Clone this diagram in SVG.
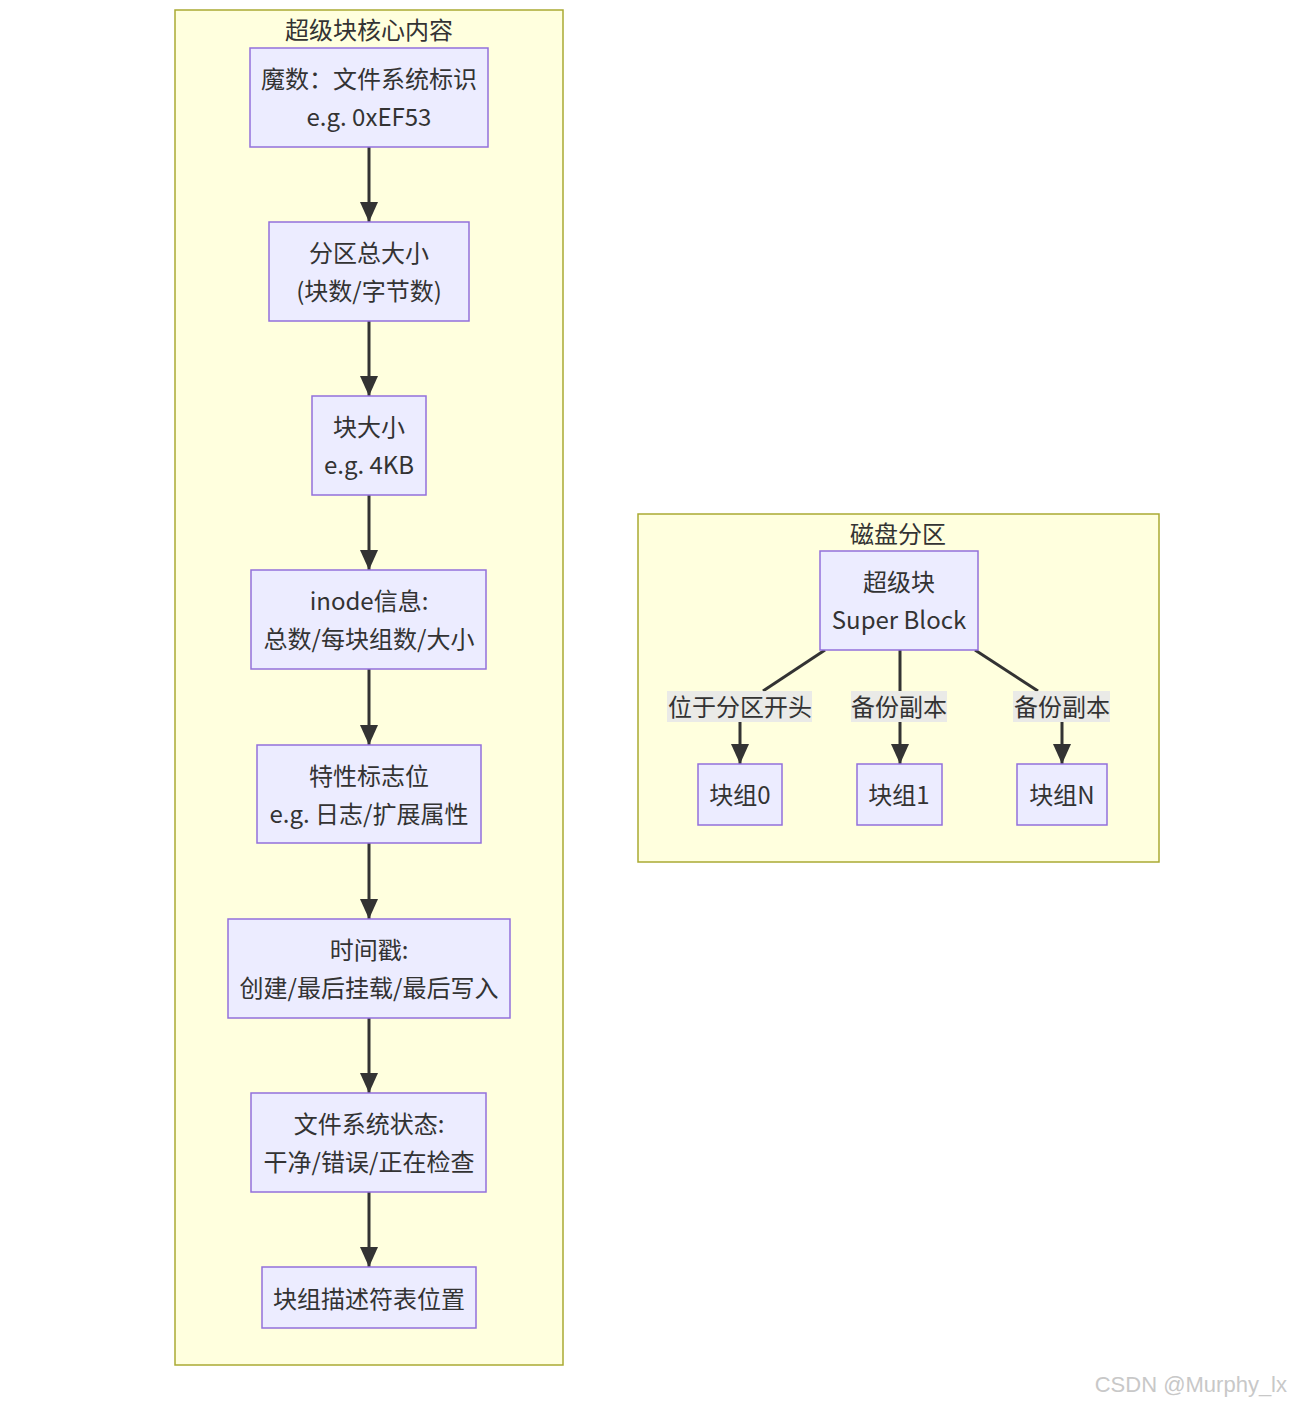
<svg xmlns="http://www.w3.org/2000/svg" width="1291" height="1406" viewBox="0 0 1291 1406">
<style>
.cluster{fill:#ffffde;stroke:#aaaa33;stroke-width:1.5}
.node{fill:#ececff;stroke:#9370db;stroke-width:1.5}
.t{font-family:"Noto Sans CJK SC","Noto Sans",sans-serif;font-size:24px;fill:#333;text-anchor:middle;dominant-baseline:central}
.edge{stroke:#333;stroke-width:3;fill:none}
.lbl{fill:#e8e8e8;opacity:0.9}
.wm{font-family:"Liberation Sans",Arial,sans-serif;font-size:22px;fill:#c8c8c8;text-anchor:end;dominant-baseline:central}
</style>
<defs>
<marker id="arr" markerUnits="userSpaceOnUse" markerWidth="20" markerHeight="20" viewBox="0 0 20 20" refX="20" refY="10" orient="auto">
<path d="M0,1 L20,10 L0,19 z" fill="#333"/>
</marker>
</defs>
<rect width="1291" height="1406" fill="#fff"/>
<g id="cluster-core">
<rect class="cluster" x="175" y="10" width="388" height="1355"/>
<text class="t" x="369" y="28">超级块核心内容</text>
</g>
<g id="cluster-disk">
<rect class="cluster" x="638" y="514" width="521" height="348"/>
<text class="t" x="898" y="532">磁盘分区</text>
</g>
<g id="edges">
<line class="edge" x1="369" y1="147" x2="369" y2="222" marker-end="url(#arr)"/>
<line class="edge" x1="369" y1="321" x2="369" y2="396" marker-end="url(#arr)"/>
<line class="edge" x1="369" y1="495" x2="369" y2="570" marker-end="url(#arr)"/>
<line class="edge" x1="369" y1="669" x2="369" y2="745" marker-end="url(#arr)"/>
<line class="edge" x1="369" y1="843" x2="369" y2="919" marker-end="url(#arr)"/>
<line class="edge" x1="369" y1="1018" x2="369" y2="1093" marker-end="url(#arr)"/>
<line class="edge" x1="369" y1="1192" x2="369" y2="1267" marker-end="url(#arr)"/>
<polyline class="edge" points="825,650 763,691"/>
<line class="edge" x1="740" y1="722" x2="740" y2="764" marker-end="url(#arr)"/>
<line class="edge" x1="900" y1="650" x2="900" y2="691"/>
<line class="edge" x1="900" y1="722" x2="900" y2="764" marker-end="url(#arr)"/>
<polyline class="edge" points="975,650 1038,691"/>
<line class="edge" x1="1062" y1="722" x2="1062" y2="764" marker-end="url(#arr)"/>
<rect class="lbl" x="667" y="691" width="145" height="31"/>
<text class="t" x="740" y="705">位于分区开头</text>
<rect class="lbl" x="851" y="691" width="96" height="31"/>
<text class="t" x="899" y="705">备份副本</text>
<rect class="lbl" x="1013" y="691" width="97" height="31"/>
<text class="t" x="1062" y="705">备份副本</text>
</g>
<g id="n-magic">
<rect class="node" x="250" y="48" width="238" height="99"/>
<text class="t" x="369" y="77">魔数：文件系统标识</text>
<text class="t" x="369" y="115">e.g. 0xEF53</text>
</g>
<g id="n-size">
<rect class="node" x="269" y="222" width="200" height="99"/>
<text class="t" x="369" y="251">分区总大小</text>
<text class="t" x="369" y="289">(块数/字节数)</text>
</g>
<g id="n-blocksize">
<rect class="node" x="312" y="396" width="114" height="99"/>
<text class="t" x="369" y="425">块大小</text>
<text class="t" x="369" y="463">e.g. 4KB</text>
</g>
<g id="n-inode">
<rect class="node" x="251" y="570" width="235" height="99"/>
<text class="t" x="369" y="599">inode信息:</text>
<text class="t" x="369" y="637">总数/每块组数/大小</text>
</g>
<g id="n-feature">
<rect class="node" x="257" y="745" width="224" height="98"/>
<text class="t" x="369" y="774">特性标志位</text>
<text class="t" x="369" y="812">e.g. 日志/扩展属性</text>
</g>
<g id="n-time">
<rect class="node" x="228" y="919" width="282" height="99"/>
<text class="t" x="369" y="948">时间戳:</text>
<text class="t" x="369" y="986">创建/最后挂载/最后写入</text>
</g>
<g id="n-state">
<rect class="node" x="251" y="1093" width="235" height="99"/>
<text class="t" x="369" y="1122">文件系统状态:</text>
<text class="t" x="369" y="1160">干净/错误/正在检查</text>
</g>
<g id="n-gdt">
<rect class="node" x="262" y="1267" width="214" height="61"/>
<text class="t" x="369" y="1297">块组描述符表位置</text>
</g>
<g id="n-super">
<rect class="node" x="820" y="551" width="158" height="99"/>
<text class="t" x="899" y="580">超级块</text>
<text class="t" x="899" y="618">Super Block</text>
</g>
<g id="n-bg0">
<rect class="node" x="698" y="764" width="84" height="61"/>
<text class="t" x="740" y="793">块组0</text>
</g>
<g id="n-bg1">
<rect class="node" x="857" y="764" width="85" height="61"/>
<text class="t" x="899" y="793">块组1</text>
</g>
<g id="n-bgn">
<rect class="node" x="1017" y="764" width="90" height="61"/>
<text class="t" x="1062" y="793">块组N</text>
</g>
<text class="wm" x="1287" y="1384">CSDN @Murphy_lx</text>
</svg>
